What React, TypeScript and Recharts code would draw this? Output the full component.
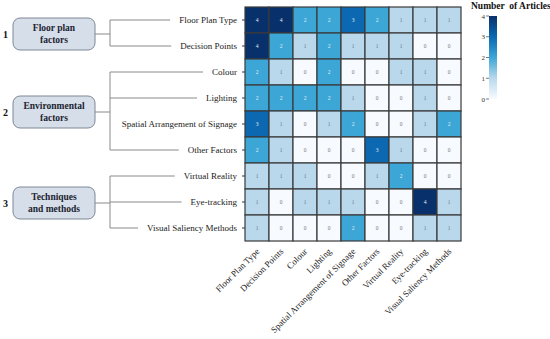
import { ScatterChart, Scatter, XAxis, YAxis } from "recharts";

const categories = [
  "Floor Plan Type",
  "Decision Points",
  "Colour",
  "Lighting",
  "Spatial Arrangement  of Signage",
  "Other Factors",
  "Virtual Reality",
  "Eye-tracking",
  "Visual Saliency Methods",
];

// rows follow the categories order (top to bottom), columns left to right
const articleCounts = [
  [4, 4, 2, 2, 3, 2, 1, 1, 1],
  [4, 2, 1, 2, 1, 1, 1, 0, 0],
  [2, 1, 0, 2, 0, 0, 1, 1, 0],
  [2, 2, 2, 2, 1, 0, 0, 1, 0],
  [3, 1, 0, 1, 2, 0, 0, 1, 2],
  [2, 1, 0, 0, 0, 3, 1, 0, 0],
  [1, 1, 1, 0, 0, 1, 2, 0, 0],
  [1, 0, 1, 1, 1, 0, 0, 4, 1],
  [1, 0, 0, 0, 2, 0, 0, 1, 1],
];

const groupNumbers = ["1", "2", "3"];
const groupTitles = [
  ["Floor plan", "factors"],
  ["Environmental", "factors"],
  ["Techniques", "and methods"],
];
const groupFirstRow = [0, 2, 6];
const groupLastRow = [1, 5, 8];

const countTicks = [0, 1, 2, 3, 4];
const countColours = ["#f7fbff", "#b9d8ec", "#3ca6d6", "#0b68b1", "#08306b"];

const W = 550;
const H = 339;
const LEFT = 245;
const TOP = 7;
const RIGHT = 89;
const BOTTOM = 98;
const CELL_W = (W - LEFT - RIGHT) / categories.length;
const CELL_H = (H - TOP - BOTTOM) / categories.length;
const SERIF = '"Liberation Serif", "Times New Roman", serif';
const TREE_X = 110;

const cells = articleCounts.flatMap((row, y) =>
  row.map((value, x) => ({ x, y, value }))
);

let ctx: CanvasRenderingContext2D | null = null;
const textWidth = (t: string, font: string) => {
  if (!ctx) ctx = document.createElement("canvas").getContext("2d");
  if (!ctx) return t.length * 4.5;
  ctx.font = font;
  return ctx.measureText(t).width;
};

const Cell = (props: any) => {
  const { cx, cy, payload } = props;
  const v = payload.value;
  return (
    <g>
      <rect
        x={cx - CELL_W / 2}
        y={cy - CELL_H / 2}
        width={CELL_W}
        height={CELL_H}
        fill={countColours[v]}
        stroke="#3a3a3a"
        strokeWidth={1.2}
      />
      <text
        x={cx}
        y={cy + 2}
        textAnchor="middle"
        fontSize={5.5}
        fontFamily={SERIF}
        fill={v >= 2 ? "#e6eef5" : "#777"}
      >
        {v}
      </text>
    </g>
  );
};

const RowTick = (props: any) => {
  const { x, y, payload } = props;
  const i = payload.value as number;
  const label = categories[i];
  const w = textWidth(label, `9px ${SERIF}`);
  const g = groupFirstRow.indexOf(i);
  let group = null;
  if (g >= 0) {
    const span = (groupLastRow[g] - groupFirstRow[g]) * CELL_H;
    const mid = y + span / 2 + 1;
    group = (
      <g>
        <line x1={TREE_X} x2={TREE_X} y1={y} y2={y + span} stroke="#8a8a8a" />
        <line x1={95} x2={TREE_X} y1={mid} y2={mid} stroke="#8a8a8a" />
        <rect
          x={13}
          y={mid - 16}
          width={82}
          height={32}
          rx={7}
          fill="#d6dee9"
          stroke="#7f8896"
        />
        {groupTitles[g].map((t, k) => (
          <text
            key={t}
            x={54}
            y={mid - 3 + k * 12}
            textAnchor="middle"
            fontSize={9.5}
            fontWeight="bold"
            fontFamily={SERIF}
            fill="#1c2430"
          >
            {t}
          </text>
        ))}
        <text
          x={3}
          y={mid + 4}
          fontSize={10}
          fontWeight="bold"
          fontFamily={SERIF}
          fill="#111"
        >
          {groupNumbers[g]}
        </text>
      </g>
    );
  }
  return (
    <g>
      {group}
      <line x1={TREE_X} x2={x - w - 9} y1={y} y2={y} stroke="#8a8a8a" />
      <text
        x={x}
        y={y + 3}
        textAnchor="end"
        fontSize={9}
        fontFamily={SERIF}
        fill="#222"
      >
        {label}
      </text>
    </g>
  );
};

const ColumnTick = (props: any) => {
  const { x, y, payload } = props;
  return (
    <text
      x={x + 3}
      y={y + 3}
      textAnchor="end"
      fontSize={9}
      fontFamily={SERIF}
      fill="#222"
      transform={`rotate(-45, ${x + 3}, ${y + 3})`}
    >
      {categories[payload.value]}
    </text>
  );
};

const ColourBar = () => {
  const top = 16;
  const bottom = 99;
  const max = countTicks[countTicks.length - 1];
  return (
    <svg
      width={W}
      height={H}
      style={{ position: "absolute", left: 0, top: 0, pointerEvents: "none" }}
    >
      <defs>
        <linearGradient id="cbar" x1="0" y1="1" x2="0" y2="0">
          {countColours.map((c, i) => (
            <stop key={i} offset={i / (countColours.length - 1)} stopColor={c} />
          ))}
        </linearGradient>
      </defs>
      <text
        x={471}
        y={9}
        fontSize={9.5}
        fontWeight="bold"
        fontFamily={SERIF}
        fill="#111"
        style={{ whiteSpace: "pre" }}
      >
        {"Number  of Articles"}
      </text>
      <rect x={489} y={top} width={8} height={bottom - top} fill="url(#cbar)" />
      {countTicks.map((t) => {
        const ty = bottom - (t / max) * (bottom - top);
        return (
          <g key={t}>
            <line x1={486} x2={489} y1={ty} y2={ty} stroke="#555" strokeWidth={0.8} />
            <text
              x={485}
              y={ty + 2.5}
              textAnchor="end"
              fontSize={7}
              fontFamily={SERIF}
              fill="#333"
            >
              {t}
            </text>
          </g>
        );
      })}
    </svg>
  );
};

export default function App() {
  const idx = categories.map((_, i) => i);
  return (
    <div
      style={{
        position: "absolute",
        left: 0,
        top: 0,
        width: W,
        height: H,
        background: "#fff",
      }}
    >
      <ScatterChart
        width={W}
        height={H}
        margin={{ top: TOP, right: RIGHT, left: 0, bottom: 0 }}
      >
        <XAxis
          type="number"
          dataKey="x"
          domain={[-0.5, categories.length - 0.5]}
          ticks={idx}
          interval={0}
          height={BOTTOM}
          axisLine={false}
          tickLine={false}
          tick={<ColumnTick />}
        />
        <YAxis
          type="number"
          dataKey="y"
          domain={[-0.5, categories.length - 0.5]}
          ticks={idx}
          interval={0}
          reversed
          width={LEFT}
          axisLine={false}
          tickSize={3}
          tickMargin={5}
          tickLine={{ stroke: "#333" }}
          tick={<RowTick />}
        />
        <Scatter data={cells} shape={<Cell />} isAnimationActive={false} />
      </ScatterChart>
      <ColourBar />
    </div>
  );
}
